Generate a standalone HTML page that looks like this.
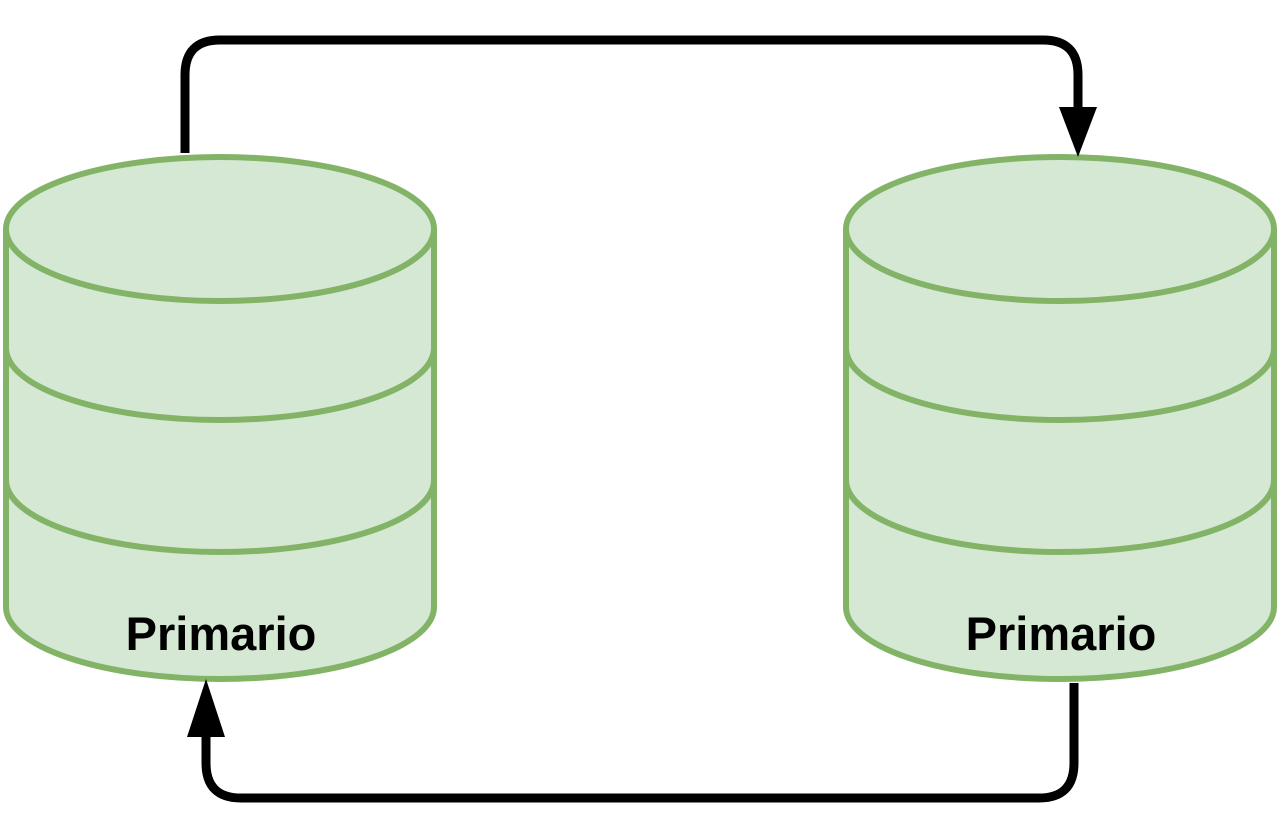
<!DOCTYPE html>
<html>
<head>
<meta charset="utf-8">
<style>
html,body{margin:0;padding:0;background:#fff;}
svg{display:block;}
text{font-family:"Liberation Sans",Arial,sans-serif;font-weight:bold;font-size:47px;}
</style>
</head>
<body>
<svg width="1288" height="840" viewBox="0 0 1288 840">
  <g stroke="#82b366" stroke-width="6" fill="#d5e8d4">
    <path d="M6,229 A214,72 0 0 1 434,229 L434,607 A214,72 0 0 1 6,607 Z"/>
    <path d="M6,229 A214,72 0 0 0 434,229" fill="none"/>
    <path d="M6,348 A214,72 0 0 0 434,348" fill="none"/>
    <path d="M6,480 A214,72 0 0 0 434,480" fill="none"/>
  </g>
  <text x="221" y="650" text-anchor="middle">Primario</text>

  <g stroke="#82b366" stroke-width="6" fill="#d5e8d4">
    <path d="M846,229 A214,72 0 0 1 1274,229 L1274,607 A214,72 0 0 1 846,607 Z"/>
    <path d="M846,229 A214,72 0 0 0 1274,229" fill="none"/>
    <path d="M846,348 A214,72 0 0 0 1274,348" fill="none"/>
    <path d="M846,480 A214,72 0 0 0 1274,480" fill="none"/>
  </g>
  <text x="1061" y="650" text-anchor="middle">Primario</text>

  <g>
    <path d="M185,153 L185,75 Q185,40 220,40 L1043,40 Q1078,40 1078,75 L1078,110" fill="none" stroke="#000" stroke-width="9"/>
    <polygon points="1059,107 1097,107 1078,157" fill="#000"/>
  </g>
  <g>
    <path d="M1074,683 L1074,763 Q1074,798 1039,798 L241,798 Q206,798 206,763 L206,735" fill="none" stroke="#000" stroke-width="9"/>
    <polygon points="187,737 225,737 206,679" fill="#000"/>
  </g>
</svg>
</body>
</html>
